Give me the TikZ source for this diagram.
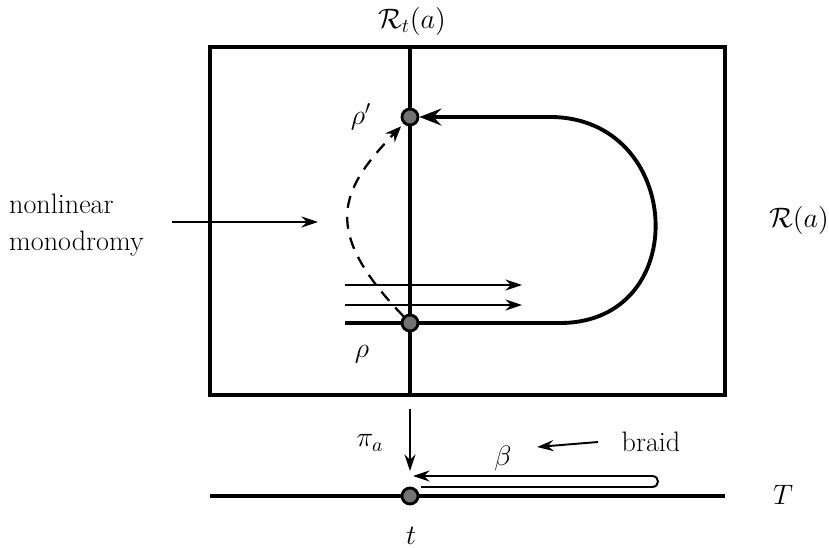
\RequirePackage{fix-cm}
\documentclass[tikz,border=0pt]{standalone}
\usepackage{tikz}
\usetikzlibrary{arrows.meta, positioning, backgrounds}

\begin{document}
\begin{tikzpicture}[
  x=0.02cm, y=-0.02cm,
  every node/.style={font=\fontsize{16}{19}\selectfont},
  boldline/.style={line width=2.2pt},
  thinline/.style={line width=1.1pt},
  pnt/.style={circle, draw, line width=1.6pt, fill=black!55, minimum size=0.32cm, inner sep=0pt},
  bigarr/.style={-{Stealth[length=4.4mm, width=3.4mm, inset=1.6mm]}},
  arr/.style={-{Stealth[length=3.3mm, width=2.2mm, inset=1.1mm]}},
  dashcurve/.style={line width=1.3pt, dash pattern=on 0.24cm off 0.18cm}
]
  \useasboundingbox (0,0) rectangle (829,548);

  % Total space
  \draw[boldline] (210,47) rectangle (725,395);
  \node (ralbl) at (799,220) {$\mathcal{R}(a)$};

  % Fibre
  \coordinate (ftop) at (410,47);
  \coordinate (fbot) at (410,395);
  \node (rtlbl) at (412,21) {$\mathcal{R}_t(a)$};
  \node[pnt] (rhop) at (410,117) {};
  \node[pnt] (rho) at (410,323) {};
  \node (rhoplbl) at (361,117) {$\rho'$};
  \node (rholbl) at (362,354) {$\rho$};

  % Loop
  \coordinate (lstart) at (345,323);
  \coordinate (dbot) at (560,323);
  \coordinate (dtop) at (550,117);
  \begin{scope}[on background layer]
    \draw[boldline] (ftop) -- (fbot);
    \draw[boldline] (lstart) -- (rho.center) -- (dbot)
      .. controls (694,323) and (684,117) .. (dtop);
    \draw[boldline] (210,496) -- (725,496);
  \end{scope}
  \draw[boldline, bigarr] (dtop) -- (rhop);

  % Flow
  \foreach \y/\n in {285/a, 305/b} {
    \coordinate (fl\n) at (345,\y);
    \coordinate (fr\n) at (522,\y);
    \draw[thinline, arr] (fl\n) -- (fr\n);
  }

  % Monodromy
  \draw[dashcurve, -{Stealth[length=3.2mm, width=2.6mm, inset=1.1mm]}, shorten >=2pt]
    (rho) .. controls (320,230) and (340,190) .. (rhop);
  \node[anchor=west, align=left] (mono) at (3,225) {nonlinear\\[2.5pt]monodromy};
  \coordinate (mstart) at (172,222);
  \coordinate (mend) at (318,222);
  \draw[thinline, arr] (mstart) -- (mend);

  % Projection
  \coordinate (ptop) at (410,409);
  \coordinate (pbot) at (410,471);
  \draw[thinline, arr] (ptop) -- (pbot);
  \node (pilbl) at (370,443) {$\pi_a$};

  % Base
  \node[pnt] (tpt) at (410,496) {};
  \node (tlbl) at (411,536) {$t$};
  \node (Tlbl) at (783,495) {$T$};

  % Braid
  \coordinate (bl) at (421,487);
  \coordinate (br) at (652,487);
  \coordinate (brt) at (652,476);
  \coordinate (btip) at (413,476);
  \draw[thinline, arr] (bl) -- (br) .. controls (660,487) and (660,476) .. (brt) -- (btip);
  \node (betalbl) at (503,458) {$\beta$};
  \node (braidlbl) at (651,442) {braid};
  \coordinate (bastart) at (598,442);
  \coordinate (baend) at (537,447);
  \draw[thinline, arr] (bastart) -- (baend);
\end{tikzpicture}
\end{document}
